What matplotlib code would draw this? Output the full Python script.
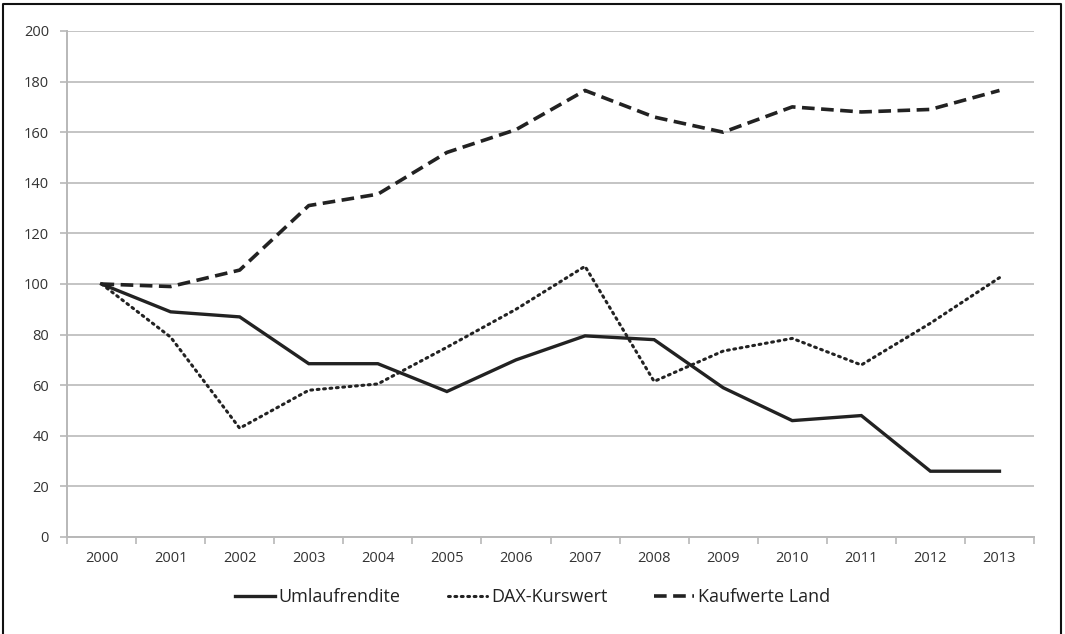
import numpy as np
import matplotlib
matplotlib.use("Agg")
import matplotlib.pyplot as plt
from matplotlib.lines import Line2D

plt.rcParams['font.family'] = ['Open Sans', 'DejaVu Sans']

# Data (index, 2000 = 100)
years = ['2000', '2001', '2002', '2003', '2004', '2005', '2006',
         '2007', '2008', '2009', '2010', '2011', '2012', '2013']
umlaufrendite = [100, 89, 87, 68.5, 68.5, 57.5, 70, 79.5, 78, 59, 46, 48, 26, 26]
dax_kurswert = [100, 79, 43, 58, 60.5, 75, 90, 107, 61.5, 73.5, 78.5, 68, 84.5, 102.5]
kaufwerte_land = [100, 99, 105.5, 131, 135.5, 152, 161, 176.5, 166, 160, 170, 168, 169, 176.5]

fig = plt.figure(figsize=(10.65, 6.34), dpi=100)
ax = fig.add_axes([67 / 1065, 1 - 537 / 634, (1034 - 67) / 1065, (537 - 31) / 634])

x = np.arange(len(years))
line_col = '#222222'
ax.plot(x, umlaufrendite, color=line_col, lw=2.4, solid_joinstyle='miter',
        label='Umlaufrendite')
ax.plot(x, dax_kurswert, color=line_col, lw=2.2, linestyle=(0, (0.6, 1.5)),
        dash_capstyle='round', label='DAX-Kurswert')
ax.plot(x, kaufwerte_land, color=line_col, lw=2.6, linestyle=(0, (3.5, 1.8)),
        label='Kaufwerte Land')

# axes styling
ax.set_xlim(-0.5, len(years) - 0.5)
ax.set_ylim(0, 200)
ax.set_yticks(range(0, 201, 20))
ax.set_xticks(x)
ax.set_xticklabels(years)
ax.set_xticks(np.arange(-0.5, len(years), 1), minor=True)
ax.grid(axis='y', color='#c4c4c4', lw=1.4)
ax.set_axisbelow(True)
for s in ['top', 'right']:
    ax.spines[s].set_visible(False)
for s in ['left', 'bottom']:
    ax.spines[s].set_color('#b8b8b8')
    ax.spines[s].set_linewidth(1.4)
ax.tick_params(axis='x', which='major', length=0, pad=10, labelsize=10.5, labelcolor='#333333')
ax.tick_params(axis='x', which='minor', length=5, width=1.2, color='#b8b8b8')
ax.tick_params(axis='y', length=5, width=1.2, color='#b8b8b8', pad=8,
               labelsize=10.5, labelcolor='#333333')

leg = fig.legend(loc='center', bbox_to_anchor=(0.5, 1 - 597 / 634), ncol=3,
                 frameon=False, fontsize=13, handlelength=2.2, handletextpad=0.2,
                 columnspacing=2.6)
for t in leg.get_texts():
    t.set_color('#222222')

# outer frame (open at the bottom)
frame_x = [3 / 1065, 3 / 1065, 1061 / 1065, 1061 / 1065]
frame_y = [-0.01, 1 - 4 / 634, 1 - 4 / 634, -0.01]
fig.add_artist(Line2D(frame_x, frame_y, transform=fig.transFigure,
                      color='#111111', lw=1.5))

fig.savefig('out.png', dpi=100)
